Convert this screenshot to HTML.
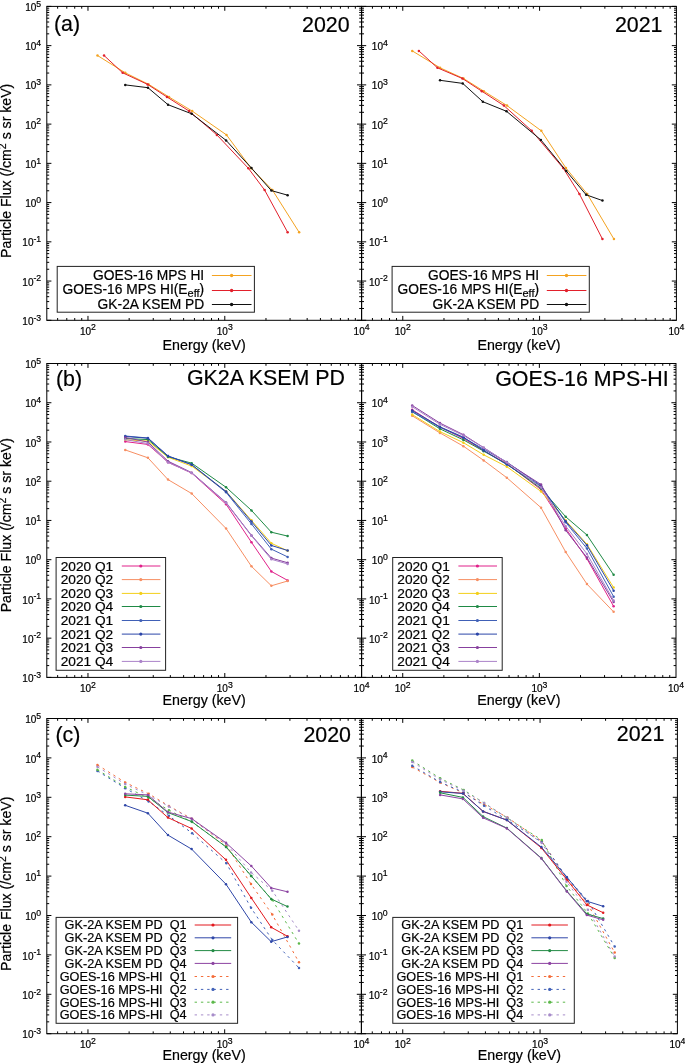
<!DOCTYPE html>
<html><head><meta charset="utf-8"><style>
html,body{margin:0;padding:0;background:#fff;}
body{width:685px;height:1063px;overflow:hidden;font-family:"Liberation Sans", sans-serif;}
svg{display:block;will-change:transform;}
text{stroke:#000;stroke-width:0.2px;}
</style></head><body>
<svg width="685" height="1063" viewBox="0 0 685 1063" font-family='"Liberation Sans", sans-serif' fill="#000">
<rect width="685" height="1063" fill="#fff"/>
<polyline points="97.47,55.5 125.25,72.8 148.73,84.4 169.02,96.99 192.2,111.09 226.48,134.89 251.16,168.29 272.45,190.09 299.13,232.29" fill="none" stroke="#f4a321" stroke-width="1.0" stroke-linejoin="round"/>
<circle cx="97.47" cy="55.5" r="1.25" fill="#f4a321"/>
<circle cx="125.25" cy="72.8" r="1.25" fill="#f4a321"/>
<circle cx="148.73" cy="84.4" r="1.25" fill="#f4a321"/>
<circle cx="169.02" cy="96.99" r="1.25" fill="#f4a321"/>
<circle cx="192.2" cy="111.09" r="1.25" fill="#f4a321"/>
<circle cx="226.48" cy="134.89" r="1.25" fill="#f4a321"/>
<circle cx="251.16" cy="168.29" r="1.25" fill="#f4a321"/>
<circle cx="272.45" cy="190.09" r="1.25" fill="#f4a321"/>
<circle cx="299.13" cy="232.29" r="1.25" fill="#f4a321"/>
<polyline points="104.06,55.5 122.65,72.8 147.63,84.4 167.02,96.99 189.1,111.09 216.89,134.89 248.36,168.29 264.65,190.09 287.64,232.29" fill="none" stroke="#e2202b" stroke-width="1.0" stroke-linejoin="round"/>
<circle cx="104.06" cy="55.5" r="1.25" fill="#e2202b"/>
<circle cx="122.65" cy="72.8" r="1.25" fill="#e2202b"/>
<circle cx="147.63" cy="84.4" r="1.25" fill="#e2202b"/>
<circle cx="167.02" cy="96.99" r="1.25" fill="#e2202b"/>
<circle cx="189.1" cy="111.09" r="1.25" fill="#e2202b"/>
<circle cx="216.89" cy="134.89" r="1.25" fill="#e2202b"/>
<circle cx="248.36" cy="168.29" r="1.25" fill="#e2202b"/>
<circle cx="264.65" cy="190.09" r="1.25" fill="#e2202b"/>
<circle cx="287.64" cy="232.29" r="1.25" fill="#e2202b"/>
<polyline points="125.25,84.89 147.93,87.69 168.02,104.69 191.7,113.79 226.08,140.39 251.46,168.09 271.35,190.59 287.64,195.19" fill="none" stroke="#111" stroke-width="1.0" stroke-linejoin="round"/>
<circle cx="125.25" cy="84.89" r="1.25" fill="#111"/>
<circle cx="147.93" cy="87.69" r="1.25" fill="#111"/>
<circle cx="168.02" cy="104.69" r="1.25" fill="#111"/>
<circle cx="191.7" cy="113.79" r="1.25" fill="#111"/>
<circle cx="226.08" cy="140.39" r="1.25" fill="#111"/>
<circle cx="251.46" cy="168.09" r="1.25" fill="#111"/>
<circle cx="271.35" cy="190.59" r="1.25" fill="#111"/>
<circle cx="287.64" cy="195.19" r="1.25" fill="#111"/>
<polyline points="412.27,50.9 440.05,67.8 463.53,78.5 483.82,91.19 507,105.59 541.28,130.79 565.96,168.09 587.25,193.99 613.93,239.09" fill="none" stroke="#f4a321" stroke-width="1.0" stroke-linejoin="round"/>
<circle cx="412.27" cy="50.9" r="1.25" fill="#f4a321"/>
<circle cx="440.05" cy="67.8" r="1.25" fill="#f4a321"/>
<circle cx="463.53" cy="78.5" r="1.25" fill="#f4a321"/>
<circle cx="483.82" cy="91.19" r="1.25" fill="#f4a321"/>
<circle cx="507" cy="105.59" r="1.25" fill="#f4a321"/>
<circle cx="541.28" cy="130.79" r="1.25" fill="#f4a321"/>
<circle cx="565.96" cy="168.09" r="1.25" fill="#f4a321"/>
<circle cx="587.25" cy="193.99" r="1.25" fill="#f4a321"/>
<circle cx="613.93" cy="239.09" r="1.25" fill="#f4a321"/>
<polyline points="418.86,50.9 437.45,67.8 462.43,78.5 481.82,91.19 503.9,105.59 531.69,130.79 563.16,168.09 579.45,193.99 602.44,239.09" fill="none" stroke="#e2202b" stroke-width="1.0" stroke-linejoin="round"/>
<circle cx="418.86" cy="50.9" r="1.25" fill="#e2202b"/>
<circle cx="437.45" cy="67.8" r="1.25" fill="#e2202b"/>
<circle cx="462.43" cy="78.5" r="1.25" fill="#e2202b"/>
<circle cx="481.82" cy="91.19" r="1.25" fill="#e2202b"/>
<circle cx="503.9" cy="105.59" r="1.25" fill="#e2202b"/>
<circle cx="531.69" cy="130.79" r="1.25" fill="#e2202b"/>
<circle cx="563.16" cy="168.09" r="1.25" fill="#e2202b"/>
<circle cx="579.45" cy="193.99" r="1.25" fill="#e2202b"/>
<circle cx="602.44" cy="239.09" r="1.25" fill="#e2202b"/>
<polyline points="440.05,80.3 462.73,83.4 482.82,101.69 506.5,111.29 540.88,139.89 566.26,170.99 586.15,194.79 602.44,200.59" fill="none" stroke="#111" stroke-width="1.0" stroke-linejoin="round"/>
<circle cx="440.05" cy="80.3" r="1.25" fill="#111"/>
<circle cx="462.73" cy="83.4" r="1.25" fill="#111"/>
<circle cx="482.82" cy="101.69" r="1.25" fill="#111"/>
<circle cx="506.5" cy="111.29" r="1.25" fill="#111"/>
<circle cx="540.88" cy="139.89" r="1.25" fill="#111"/>
<circle cx="566.26" cy="170.99" r="1.25" fill="#111"/>
<circle cx="586.15" cy="194.79" r="1.25" fill="#111"/>
<circle cx="602.44" cy="200.59" r="1.25" fill="#111"/>
<polyline points="125.25,441.58 147.93,444.46 168.02,462.19 191.7,473.05 226.08,504.22 251.46,542.26 271.35,571.44 287.64,580.4" fill="none" stroke="#e0218a" stroke-width="1.0" stroke-linejoin="round"/>
<circle cx="125.25" cy="441.58" r="1.25" fill="#e0218a"/>
<circle cx="147.93" cy="444.46" r="1.25" fill="#e0218a"/>
<circle cx="168.02" cy="462.19" r="1.25" fill="#e0218a"/>
<circle cx="191.7" cy="473.05" r="1.25" fill="#e0218a"/>
<circle cx="226.08" cy="504.22" r="1.25" fill="#e0218a"/>
<circle cx="251.46" cy="542.26" r="1.25" fill="#e0218a"/>
<circle cx="271.35" cy="571.44" r="1.25" fill="#e0218a"/>
<circle cx="287.64" cy="580.4" r="1.25" fill="#e0218a"/>
<polyline points="125.25,449.94 147.93,457.81 168.02,479.62 191.7,493.56 226.08,528.52 251.46,566.36 271.35,585.78 287.64,581" fill="none" stroke="#f78f63" stroke-width="1.0" stroke-linejoin="round"/>
<circle cx="125.25" cy="449.94" r="1.25" fill="#f78f63"/>
<circle cx="147.93" cy="457.81" r="1.25" fill="#f78f63"/>
<circle cx="168.02" cy="479.62" r="1.25" fill="#f78f63"/>
<circle cx="191.7" cy="493.56" r="1.25" fill="#f78f63"/>
<circle cx="226.08" cy="528.52" r="1.25" fill="#f78f63"/>
<circle cx="251.46" cy="566.36" r="1.25" fill="#f78f63"/>
<circle cx="271.35" cy="585.78" r="1.25" fill="#f78f63"/>
<circle cx="287.64" cy="581" r="1.25" fill="#f78f63"/>
<polyline points="125.25,439.78 147.93,441.08 168.02,457.21 191.7,466.08 226.08,491.37 251.46,520.35 271.35,543.26 287.64,550.82" fill="none" stroke="#f3cf19" stroke-width="1.0" stroke-linejoin="round"/>
<circle cx="125.25" cy="439.78" r="1.25" fill="#f3cf19"/>
<circle cx="147.93" cy="441.08" r="1.25" fill="#f3cf19"/>
<circle cx="168.02" cy="457.21" r="1.25" fill="#f3cf19"/>
<circle cx="191.7" cy="466.08" r="1.25" fill="#f3cf19"/>
<circle cx="226.08" cy="491.37" r="1.25" fill="#f3cf19"/>
<circle cx="251.46" cy="520.35" r="1.25" fill="#f3cf19"/>
<circle cx="271.35" cy="543.26" r="1.25" fill="#f3cf19"/>
<circle cx="287.64" cy="550.82" r="1.25" fill="#f3cf19"/>
<polyline points="125.25,438.49 147.93,439.58 168.02,456.71 191.7,463.19 226.08,487.29 251.46,510.39 271.35,532.2 287.64,536.09" fill="none" stroke="#1f8a45" stroke-width="1.0" stroke-linejoin="round"/>
<circle cx="125.25" cy="438.49" r="1.25" fill="#1f8a45"/>
<circle cx="147.93" cy="439.58" r="1.25" fill="#1f8a45"/>
<circle cx="168.02" cy="456.71" r="1.25" fill="#1f8a45"/>
<circle cx="191.7" cy="463.19" r="1.25" fill="#1f8a45"/>
<circle cx="226.08" cy="487.29" r="1.25" fill="#1f8a45"/>
<circle cx="251.46" cy="510.39" r="1.25" fill="#1f8a45"/>
<circle cx="271.35" cy="532.2" r="1.25" fill="#1f8a45"/>
<circle cx="287.64" cy="536.09" r="1.25" fill="#1f8a45"/>
<polyline points="125.25,436 147.93,437.99 168.02,456.02 191.7,464.68 226.08,492.37 251.46,523.94 271.35,549.13 287.64,556.9" fill="none" stroke="#4060b6" stroke-width="1.0" stroke-linejoin="round"/>
<circle cx="125.25" cy="436" r="1.25" fill="#4060b6"/>
<circle cx="147.93" cy="437.99" r="1.25" fill="#4060b6"/>
<circle cx="168.02" cy="456.02" r="1.25" fill="#4060b6"/>
<circle cx="191.7" cy="464.68" r="1.25" fill="#4060b6"/>
<circle cx="226.08" cy="492.37" r="1.25" fill="#4060b6"/>
<circle cx="251.46" cy="523.94" r="1.25" fill="#4060b6"/>
<circle cx="271.35" cy="549.13" r="1.25" fill="#4060b6"/>
<circle cx="287.64" cy="556.9" r="1.25" fill="#4060b6"/>
<polyline points="125.25,436.5 147.93,438.19 168.02,456.02 191.7,464.68 226.08,491.57 251.46,521.55 271.35,545.45 287.64,550.53" fill="none" stroke="#2b45a8" stroke-width="1.0" stroke-linejoin="round"/>
<circle cx="125.25" cy="436.5" r="1.25" fill="#2b45a8"/>
<circle cx="147.93" cy="438.19" r="1.25" fill="#2b45a8"/>
<circle cx="168.02" cy="456.02" r="1.25" fill="#2b45a8"/>
<circle cx="191.7" cy="464.68" r="1.25" fill="#2b45a8"/>
<circle cx="226.08" cy="491.57" r="1.25" fill="#2b45a8"/>
<circle cx="251.46" cy="521.55" r="1.25" fill="#2b45a8"/>
<circle cx="271.35" cy="545.45" r="1.25" fill="#2b45a8"/>
<circle cx="287.64" cy="550.53" r="1.25" fill="#2b45a8"/>
<polyline points="125.25,437.49 147.93,442.07 168.02,461.2 191.7,472.65 226.08,502.52 251.46,535.39 271.35,558.09 287.64,562.77" fill="none" stroke="#87409e" stroke-width="1.0" stroke-linejoin="round"/>
<circle cx="125.25" cy="437.49" r="1.25" fill="#87409e"/>
<circle cx="147.93" cy="442.07" r="1.25" fill="#87409e"/>
<circle cx="168.02" cy="461.2" r="1.25" fill="#87409e"/>
<circle cx="191.7" cy="472.65" r="1.25" fill="#87409e"/>
<circle cx="226.08" cy="502.52" r="1.25" fill="#87409e"/>
<circle cx="251.46" cy="535.39" r="1.25" fill="#87409e"/>
<circle cx="271.35" cy="558.09" r="1.25" fill="#87409e"/>
<circle cx="287.64" cy="562.77" r="1.25" fill="#87409e"/>
<polyline points="125.25,439.58 147.93,443.57 168.02,462.39 191.7,472.95 226.08,502.92 251.46,535.79 271.35,559.29 287.64,563.97" fill="none" stroke="#ab82c9" stroke-width="1.0" stroke-linejoin="round"/>
<circle cx="125.25" cy="439.58" r="1.25" fill="#ab82c9"/>
<circle cx="147.93" cy="443.57" r="1.25" fill="#ab82c9"/>
<circle cx="168.02" cy="462.39" r="1.25" fill="#ab82c9"/>
<circle cx="191.7" cy="472.95" r="1.25" fill="#ab82c9"/>
<circle cx="226.08" cy="502.92" r="1.25" fill="#ab82c9"/>
<circle cx="251.46" cy="535.79" r="1.25" fill="#ab82c9"/>
<circle cx="271.35" cy="559.29" r="1.25" fill="#ab82c9"/>
<circle cx="287.64" cy="563.97" r="1.25" fill="#ab82c9"/>
<polyline points="412.2,409.71 439.95,427.14 463.4,438.49 483.66,450.64 506.82,463.59 541.05,489.68 565.7,528.42 586.96,558.79 613.61,606.29" fill="none" stroke="#e0218a" stroke-width="1.0" stroke-linejoin="round"/>
<circle cx="412.2" cy="409.71" r="1.25" fill="#e0218a"/>
<circle cx="439.95" cy="427.14" r="1.25" fill="#e0218a"/>
<circle cx="463.4" cy="438.49" r="1.25" fill="#e0218a"/>
<circle cx="483.66" cy="450.64" r="1.25" fill="#e0218a"/>
<circle cx="506.82" cy="463.59" r="1.25" fill="#e0218a"/>
<circle cx="541.05" cy="489.68" r="1.25" fill="#e0218a"/>
<circle cx="565.7" cy="528.42" r="1.25" fill="#e0218a"/>
<circle cx="586.96" cy="558.79" r="1.25" fill="#e0218a"/>
<circle cx="613.61" cy="606.29" r="1.25" fill="#e0218a"/>
<polyline points="412.2,415.78 439.95,432.91 463.4,446.16 483.66,460.4 506.82,477.73 541.05,507.7 565.7,552.02 586.96,584.09 613.61,611.87" fill="none" stroke="#f78f63" stroke-width="1.0" stroke-linejoin="round"/>
<circle cx="412.2" cy="415.78" r="1.25" fill="#f78f63"/>
<circle cx="439.95" cy="432.91" r="1.25" fill="#f78f63"/>
<circle cx="463.4" cy="446.16" r="1.25" fill="#f78f63"/>
<circle cx="483.66" cy="460.4" r="1.25" fill="#f78f63"/>
<circle cx="506.82" cy="477.73" r="1.25" fill="#f78f63"/>
<circle cx="541.05" cy="507.7" r="1.25" fill="#f78f63"/>
<circle cx="565.7" cy="552.02" r="1.25" fill="#f78f63"/>
<circle cx="586.96" cy="584.09" r="1.25" fill="#f78f63"/>
<circle cx="613.61" cy="611.87" r="1.25" fill="#f78f63"/>
<polyline points="412.2,414.59 439.95,431.62 463.4,442.67 483.66,454.82 506.82,466.67 541.05,491.47 565.7,520.35 586.96,544.25 613.61,587.57" fill="none" stroke="#f3cf19" stroke-width="1.0" stroke-linejoin="round"/>
<circle cx="412.2" cy="414.59" r="1.25" fill="#f3cf19"/>
<circle cx="439.95" cy="431.62" r="1.25" fill="#f3cf19"/>
<circle cx="463.4" cy="442.67" r="1.25" fill="#f3cf19"/>
<circle cx="483.66" cy="454.82" r="1.25" fill="#f3cf19"/>
<circle cx="506.82" cy="466.67" r="1.25" fill="#f3cf19"/>
<circle cx="541.05" cy="491.47" r="1.25" fill="#f3cf19"/>
<circle cx="565.7" cy="520.35" r="1.25" fill="#f3cf19"/>
<circle cx="586.96" cy="544.25" r="1.25" fill="#f3cf19"/>
<circle cx="613.61" cy="587.57" r="1.25" fill="#f3cf19"/>
<polyline points="412.2,411.6 439.95,428.83 463.4,439.88 483.66,451.14 506.82,464.08 541.05,488.48 565.7,516.77 586.96,534.99 613.61,574.82" fill="none" stroke="#1f8a45" stroke-width="1.0" stroke-linejoin="round"/>
<circle cx="412.2" cy="411.6" r="1.25" fill="#1f8a45"/>
<circle cx="439.95" cy="428.83" r="1.25" fill="#1f8a45"/>
<circle cx="463.4" cy="439.88" r="1.25" fill="#1f8a45"/>
<circle cx="483.66" cy="451.14" r="1.25" fill="#1f8a45"/>
<circle cx="506.82" cy="464.08" r="1.25" fill="#1f8a45"/>
<circle cx="541.05" cy="488.48" r="1.25" fill="#1f8a45"/>
<circle cx="565.7" cy="516.77" r="1.25" fill="#1f8a45"/>
<circle cx="586.96" cy="534.99" r="1.25" fill="#1f8a45"/>
<circle cx="613.61" cy="574.82" r="1.25" fill="#1f8a45"/>
<polyline points="412.2,411.9 439.95,427.34 463.4,437.69 483.66,449.15 506.82,462.09 541.05,485.69 565.7,522.34 586.96,548.53 613.61,596.63" fill="none" stroke="#4060b6" stroke-width="1.0" stroke-linejoin="round"/>
<circle cx="412.2" cy="411.9" r="1.25" fill="#4060b6"/>
<circle cx="439.95" cy="427.34" r="1.25" fill="#4060b6"/>
<circle cx="463.4" cy="437.69" r="1.25" fill="#4060b6"/>
<circle cx="483.66" cy="449.15" r="1.25" fill="#4060b6"/>
<circle cx="506.82" cy="462.09" r="1.25" fill="#4060b6"/>
<circle cx="541.05" cy="485.69" r="1.25" fill="#4060b6"/>
<circle cx="565.7" cy="522.34" r="1.25" fill="#4060b6"/>
<circle cx="586.96" cy="548.53" r="1.25" fill="#4060b6"/>
<circle cx="613.61" cy="596.63" r="1.25" fill="#4060b6"/>
<polyline points="412.2,410.51 439.95,426.84 463.4,437.19 483.66,450.44 506.82,464.58 541.05,486.49 565.7,521.35 586.96,545.25 613.61,590.66" fill="none" stroke="#2b45a8" stroke-width="1.0" stroke-linejoin="round"/>
<circle cx="412.2" cy="410.51" r="1.25" fill="#2b45a8"/>
<circle cx="439.95" cy="426.84" r="1.25" fill="#2b45a8"/>
<circle cx="463.4" cy="437.19" r="1.25" fill="#2b45a8"/>
<circle cx="483.66" cy="450.44" r="1.25" fill="#2b45a8"/>
<circle cx="506.82" cy="464.58" r="1.25" fill="#2b45a8"/>
<circle cx="541.05" cy="486.49" r="1.25" fill="#2b45a8"/>
<circle cx="565.7" cy="521.35" r="1.25" fill="#2b45a8"/>
<circle cx="586.96" cy="545.25" r="1.25" fill="#2b45a8"/>
<circle cx="613.61" cy="590.66" r="1.25" fill="#2b45a8"/>
<polyline points="412.2,405.43 439.95,423.05 463.4,434.71 483.66,447.65 506.82,462.59 541.05,484.5 565.7,530.31 586.96,557.6 613.61,602.01" fill="none" stroke="#87409e" stroke-width="1.0" stroke-linejoin="round"/>
<circle cx="412.2" cy="405.43" r="1.25" fill="#87409e"/>
<circle cx="439.95" cy="423.05" r="1.25" fill="#87409e"/>
<circle cx="463.4" cy="434.71" r="1.25" fill="#87409e"/>
<circle cx="483.66" cy="447.65" r="1.25" fill="#87409e"/>
<circle cx="506.82" cy="462.59" r="1.25" fill="#87409e"/>
<circle cx="541.05" cy="484.5" r="1.25" fill="#87409e"/>
<circle cx="565.7" cy="530.31" r="1.25" fill="#87409e"/>
<circle cx="586.96" cy="557.6" r="1.25" fill="#87409e"/>
<circle cx="613.61" cy="602.01" r="1.25" fill="#87409e"/>
<polyline points="412.2,406.72 439.95,424.25 463.4,435.5 483.66,447.65 506.82,462.39 541.05,487.49 565.7,526.13 586.96,553.91 613.61,600.52" fill="none" stroke="#ab82c9" stroke-width="1.0" stroke-linejoin="round"/>
<circle cx="412.2" cy="406.72" r="1.25" fill="#ab82c9"/>
<circle cx="439.95" cy="424.25" r="1.25" fill="#ab82c9"/>
<circle cx="463.4" cy="435.5" r="1.25" fill="#ab82c9"/>
<circle cx="483.66" cy="447.65" r="1.25" fill="#ab82c9"/>
<circle cx="506.82" cy="462.39" r="1.25" fill="#ab82c9"/>
<circle cx="541.05" cy="487.49" r="1.25" fill="#ab82c9"/>
<circle cx="565.7" cy="526.13" r="1.25" fill="#ab82c9"/>
<circle cx="586.96" cy="553.91" r="1.25" fill="#ab82c9"/>
<circle cx="613.61" cy="600.52" r="1.25" fill="#ab82c9"/>
<polyline points="97.43,764.9 125.2,782.4 148.67,793.8 168.94,806 192.11,819 226.37,845.2 251.03,884.1 272.31,914.6 298.97,962.3" fill="none" stroke="#f46d3a" stroke-width="1.0" stroke-linejoin="round" stroke-dasharray="2.4 3.9"/>
<circle cx="97.43" cy="764.9" r="1.25" fill="#f46d3a"/>
<circle cx="125.2" cy="782.4" r="1.25" fill="#f46d3a"/>
<circle cx="148.67" cy="793.8" r="1.25" fill="#f46d3a"/>
<circle cx="168.94" cy="806" r="1.25" fill="#f46d3a"/>
<circle cx="192.11" cy="819" r="1.25" fill="#f46d3a"/>
<circle cx="226.37" cy="845.2" r="1.25" fill="#f46d3a"/>
<circle cx="251.03" cy="884.1" r="1.25" fill="#f46d3a"/>
<circle cx="272.31" cy="914.6" r="1.25" fill="#f46d3a"/>
<circle cx="298.97" cy="962.3" r="1.25" fill="#f46d3a"/>
<polyline points="97.43,771 125.2,788.2 148.67,801.5 168.94,815.8 192.11,833.2 226.37,863.3 251.03,907.8 272.31,940 298.97,967.9" fill="none" stroke="#4262b8" stroke-width="1.0" stroke-linejoin="round" stroke-dasharray="2.4 3.9"/>
<circle cx="97.43" cy="771" r="1.25" fill="#4262b8"/>
<circle cx="125.2" cy="788.2" r="1.25" fill="#4262b8"/>
<circle cx="148.67" cy="801.5" r="1.25" fill="#4262b8"/>
<circle cx="168.94" cy="815.8" r="1.25" fill="#4262b8"/>
<circle cx="192.11" cy="833.2" r="1.25" fill="#4262b8"/>
<circle cx="226.37" cy="863.3" r="1.25" fill="#4262b8"/>
<circle cx="251.03" cy="907.8" r="1.25" fill="#4262b8"/>
<circle cx="272.31" cy="940" r="1.25" fill="#4262b8"/>
<circle cx="298.97" cy="967.9" r="1.25" fill="#4262b8"/>
<polyline points="97.43,769.8 125.2,786.9 148.67,798 168.94,810.2 192.11,822.1 226.37,847 251.03,876 272.31,900 298.97,943.5" fill="none" stroke="#5cb84a" stroke-width="1.0" stroke-linejoin="round" stroke-dasharray="2.4 3.9"/>
<circle cx="97.43" cy="769.8" r="1.25" fill="#5cb84a"/>
<circle cx="125.2" cy="786.9" r="1.25" fill="#5cb84a"/>
<circle cx="148.67" cy="798" r="1.25" fill="#5cb84a"/>
<circle cx="168.94" cy="810.2" r="1.25" fill="#5cb84a"/>
<circle cx="192.11" cy="822.1" r="1.25" fill="#5cb84a"/>
<circle cx="226.37" cy="847" r="1.25" fill="#5cb84a"/>
<circle cx="251.03" cy="876" r="1.25" fill="#5cb84a"/>
<circle cx="272.31" cy="900" r="1.25" fill="#5cb84a"/>
<circle cx="298.97" cy="943.5" r="1.25" fill="#5cb84a"/>
<polyline points="97.43,766.8 125.2,784.1 148.67,795.2 168.94,806.5 192.11,819.5 226.37,844 251.03,872.4 272.31,890.7 298.97,930.7" fill="none" stroke="#a78cc9" stroke-width="1.0" stroke-linejoin="round" stroke-dasharray="2.4 3.9"/>
<circle cx="97.43" cy="766.8" r="1.25" fill="#a78cc9"/>
<circle cx="125.2" cy="784.1" r="1.25" fill="#a78cc9"/>
<circle cx="148.67" cy="795.2" r="1.25" fill="#a78cc9"/>
<circle cx="168.94" cy="806.5" r="1.25" fill="#a78cc9"/>
<circle cx="192.11" cy="819.5" r="1.25" fill="#a78cc9"/>
<circle cx="226.37" cy="844" r="1.25" fill="#a78cc9"/>
<circle cx="251.03" cy="872.4" r="1.25" fill="#a78cc9"/>
<circle cx="272.31" cy="890.7" r="1.25" fill="#a78cc9"/>
<circle cx="298.97" cy="930.7" r="1.25" fill="#a78cc9"/>
<polyline points="125.2,796.9 147.87,799.8 167.94,817.6 191.61,828.5 225.97,859.8 251.33,898 271.21,927.3 287.49,936.3" fill="none" stroke="#e2191e" stroke-width="1.0" stroke-linejoin="round"/>
<circle cx="125.2" cy="796.9" r="1.25" fill="#e2191e"/>
<circle cx="147.87" cy="799.8" r="1.25" fill="#e2191e"/>
<circle cx="167.94" cy="817.6" r="1.25" fill="#e2191e"/>
<circle cx="191.61" cy="828.5" r="1.25" fill="#e2191e"/>
<circle cx="225.97" cy="859.8" r="1.25" fill="#e2191e"/>
<circle cx="251.33" cy="898" r="1.25" fill="#e2191e"/>
<circle cx="271.21" cy="927.3" r="1.25" fill="#e2191e"/>
<circle cx="287.49" cy="936.3" r="1.25" fill="#e2191e"/>
<polyline points="125.2,805.3 147.87,813.2 167.94,835.1 191.61,849.1 225.97,884.2 251.33,922.2 271.21,941.7 287.49,936.9" fill="none" stroke="#2f47a8" stroke-width="1.0" stroke-linejoin="round"/>
<circle cx="125.2" cy="805.3" r="1.25" fill="#2f47a8"/>
<circle cx="147.87" cy="813.2" r="1.25" fill="#2f47a8"/>
<circle cx="167.94" cy="835.1" r="1.25" fill="#2f47a8"/>
<circle cx="191.61" cy="849.1" r="1.25" fill="#2f47a8"/>
<circle cx="225.97" cy="884.2" r="1.25" fill="#2f47a8"/>
<circle cx="251.33" cy="922.2" r="1.25" fill="#2f47a8"/>
<circle cx="271.21" cy="941.7" r="1.25" fill="#2f47a8"/>
<circle cx="287.49" cy="936.9" r="1.25" fill="#2f47a8"/>
<polyline points="125.2,795.1 147.87,796.4 167.94,812.6 191.61,821.5 225.97,846.9 251.33,876 271.21,899 287.49,906.6" fill="none" stroke="#238b45" stroke-width="1.0" stroke-linejoin="round"/>
<circle cx="125.2" cy="795.1" r="1.25" fill="#238b45"/>
<circle cx="147.87" cy="796.4" r="1.25" fill="#238b45"/>
<circle cx="167.94" cy="812.6" r="1.25" fill="#238b45"/>
<circle cx="191.61" cy="821.5" r="1.25" fill="#238b45"/>
<circle cx="225.97" cy="846.9" r="1.25" fill="#238b45"/>
<circle cx="251.33" cy="876" r="1.25" fill="#238b45"/>
<circle cx="271.21" cy="899" r="1.25" fill="#238b45"/>
<circle cx="287.49" cy="906.6" r="1.25" fill="#238b45"/>
<polyline points="125.2,793.8 147.87,794.9 167.94,812.1 191.61,818.6 225.97,842.8 251.33,866 271.21,887.9 287.49,891.8" fill="none" stroke="#8c44a2" stroke-width="1.0" stroke-linejoin="round"/>
<circle cx="125.2" cy="793.8" r="1.25" fill="#8c44a2"/>
<circle cx="147.87" cy="794.9" r="1.25" fill="#8c44a2"/>
<circle cx="167.94" cy="812.1" r="1.25" fill="#8c44a2"/>
<circle cx="191.61" cy="818.6" r="1.25" fill="#8c44a2"/>
<circle cx="225.97" cy="842.8" r="1.25" fill="#8c44a2"/>
<circle cx="251.33" cy="866" r="1.25" fill="#8c44a2"/>
<circle cx="271.21" cy="887.9" r="1.25" fill="#8c44a2"/>
<circle cx="287.49" cy="891.8" r="1.25" fill="#8c44a2"/>
<polyline points="412.26,767.1 440.15,782.6 463.72,793 484.08,804.5 507.36,817.5 541.76,841.2 566.54,878 587.91,904.3 614.69,952.6" fill="none" stroke="#f46d3a" stroke-width="1.0" stroke-linejoin="round" stroke-dasharray="2.4 3.9"/>
<circle cx="412.26" cy="767.1" r="1.25" fill="#f46d3a"/>
<circle cx="440.15" cy="782.6" r="1.25" fill="#f46d3a"/>
<circle cx="463.72" cy="793" r="1.25" fill="#f46d3a"/>
<circle cx="484.08" cy="804.5" r="1.25" fill="#f46d3a"/>
<circle cx="507.36" cy="817.5" r="1.25" fill="#f46d3a"/>
<circle cx="541.76" cy="841.2" r="1.25" fill="#f46d3a"/>
<circle cx="566.54" cy="878" r="1.25" fill="#f46d3a"/>
<circle cx="587.91" cy="904.3" r="1.25" fill="#f46d3a"/>
<circle cx="614.69" cy="952.6" r="1.25" fill="#f46d3a"/>
<polyline points="412.26,765.7 440.15,782.1 463.72,792.5 484.08,805.8 507.36,820 541.76,842 566.54,877 587.91,901 614.69,946.6" fill="none" stroke="#4262b8" stroke-width="1.0" stroke-linejoin="round" stroke-dasharray="2.4 3.9"/>
<circle cx="412.26" cy="765.7" r="1.25" fill="#4262b8"/>
<circle cx="440.15" cy="782.1" r="1.25" fill="#4262b8"/>
<circle cx="463.72" cy="792.5" r="1.25" fill="#4262b8"/>
<circle cx="484.08" cy="805.8" r="1.25" fill="#4262b8"/>
<circle cx="507.36" cy="820" r="1.25" fill="#4262b8"/>
<circle cx="541.76" cy="842" r="1.25" fill="#4262b8"/>
<circle cx="566.54" cy="877" r="1.25" fill="#4262b8"/>
<circle cx="587.91" cy="901" r="1.25" fill="#4262b8"/>
<circle cx="614.69" cy="946.6" r="1.25" fill="#4262b8"/>
<polyline points="412.26,760.6 440.15,778.3 463.72,790 484.08,803 507.36,818 541.76,840 566.54,886 587.91,913.4 614.69,958" fill="none" stroke="#5cb84a" stroke-width="1.0" stroke-linejoin="round" stroke-dasharray="2.4 3.9"/>
<circle cx="412.26" cy="760.6" r="1.25" fill="#5cb84a"/>
<circle cx="440.15" cy="778.3" r="1.25" fill="#5cb84a"/>
<circle cx="463.72" cy="790" r="1.25" fill="#5cb84a"/>
<circle cx="484.08" cy="803" r="1.25" fill="#5cb84a"/>
<circle cx="507.36" cy="818" r="1.25" fill="#5cb84a"/>
<circle cx="541.76" cy="840" r="1.25" fill="#5cb84a"/>
<circle cx="566.54" cy="886" r="1.25" fill="#5cb84a"/>
<circle cx="587.91" cy="913.4" r="1.25" fill="#5cb84a"/>
<circle cx="614.69" cy="958" r="1.25" fill="#5cb84a"/>
<polyline points="412.26,761.9 440.15,779.5 463.72,790.8 484.08,803 507.36,817.8 541.76,843 566.54,881.8 587.91,909.7 614.69,956.5" fill="none" stroke="#a78cc9" stroke-width="1.0" stroke-linejoin="round" stroke-dasharray="2.4 3.9"/>
<circle cx="412.26" cy="761.9" r="1.25" fill="#a78cc9"/>
<circle cx="440.15" cy="779.5" r="1.25" fill="#a78cc9"/>
<circle cx="463.72" cy="790.8" r="1.25" fill="#a78cc9"/>
<circle cx="484.08" cy="803" r="1.25" fill="#a78cc9"/>
<circle cx="507.36" cy="817.8" r="1.25" fill="#a78cc9"/>
<circle cx="541.76" cy="843" r="1.25" fill="#a78cc9"/>
<circle cx="566.54" cy="881.8" r="1.25" fill="#a78cc9"/>
<circle cx="587.91" cy="909.7" r="1.25" fill="#a78cc9"/>
<circle cx="614.69" cy="956.5" r="1.25" fill="#a78cc9"/>
<polyline points="440.15,791.3 462.92,793.3 483.08,811.4 506.86,820.1 541.36,847.9 566.84,879.6 586.81,904.9 603.16,912.7" fill="none" stroke="#e2191e" stroke-width="1.0" stroke-linejoin="round"/>
<circle cx="440.15" cy="791.3" r="1.25" fill="#e2191e"/>
<circle cx="462.92" cy="793.3" r="1.25" fill="#e2191e"/>
<circle cx="483.08" cy="811.4" r="1.25" fill="#e2191e"/>
<circle cx="506.86" cy="820.1" r="1.25" fill="#e2191e"/>
<circle cx="541.36" cy="847.9" r="1.25" fill="#e2191e"/>
<circle cx="566.84" cy="879.6" r="1.25" fill="#e2191e"/>
<circle cx="586.81" cy="904.9" r="1.25" fill="#e2191e"/>
<circle cx="603.16" cy="912.7" r="1.25" fill="#e2191e"/>
<polyline points="440.15,791.8 462.92,793.5 483.08,811.4 506.86,820.1 541.36,847.1 566.84,877.2 586.81,901.2 603.16,906.3" fill="none" stroke="#2f47a8" stroke-width="1.0" stroke-linejoin="round"/>
<circle cx="440.15" cy="791.8" r="1.25" fill="#2f47a8"/>
<circle cx="462.92" cy="793.5" r="1.25" fill="#2f47a8"/>
<circle cx="483.08" cy="811.4" r="1.25" fill="#2f47a8"/>
<circle cx="506.86" cy="820.1" r="1.25" fill="#2f47a8"/>
<circle cx="541.36" cy="847.1" r="1.25" fill="#2f47a8"/>
<circle cx="566.84" cy="877.2" r="1.25" fill="#2f47a8"/>
<circle cx="586.81" cy="901.2" r="1.25" fill="#2f47a8"/>
<circle cx="603.16" cy="906.3" r="1.25" fill="#2f47a8"/>
<polyline points="440.15,792.8 462.92,797.4 483.08,816.6 506.86,828.1 541.36,858.1 566.84,891.1 586.81,913.9 603.16,918.6" fill="none" stroke="#238b45" stroke-width="1.0" stroke-linejoin="round"/>
<circle cx="440.15" cy="792.8" r="1.25" fill="#238b45"/>
<circle cx="462.92" cy="797.4" r="1.25" fill="#238b45"/>
<circle cx="483.08" cy="816.6" r="1.25" fill="#238b45"/>
<circle cx="506.86" cy="828.1" r="1.25" fill="#238b45"/>
<circle cx="541.36" cy="858.1" r="1.25" fill="#238b45"/>
<circle cx="566.84" cy="891.1" r="1.25" fill="#238b45"/>
<circle cx="586.81" cy="913.9" r="1.25" fill="#238b45"/>
<circle cx="603.16" cy="918.6" r="1.25" fill="#238b45"/>
<polyline points="440.15,794.9 462.92,798.9 483.08,817.8 506.86,828.4 541.36,858.5 566.84,891.5 586.81,915.1 603.16,919.8" fill="none" stroke="#8c44a2" stroke-width="1.0" stroke-linejoin="round"/>
<circle cx="440.15" cy="794.9" r="1.25" fill="#8c44a2"/>
<circle cx="462.92" cy="798.9" r="1.25" fill="#8c44a2"/>
<circle cx="483.08" cy="817.8" r="1.25" fill="#8c44a2"/>
<circle cx="506.86" cy="828.4" r="1.25" fill="#8c44a2"/>
<circle cx="541.36" cy="858.5" r="1.25" fill="#8c44a2"/>
<circle cx="566.84" cy="891.5" r="1.25" fill="#8c44a2"/>
<circle cx="586.81" cy="915.1" r="1.25" fill="#8c44a2"/>
<circle cx="603.16" cy="919.8" r="1.25" fill="#8c44a2"/>
<rect x="46.8" y="6.4" width="314.8" height="313.9" fill="none" stroke="#000" stroke-width="1.0"/>
<path d="M46.8 320.3h4.6M361.6 320.3h-4.6M46.8 308.49h2.4M361.6 308.49h-2.4M46.8 301.58h2.4M361.6 301.58h-2.4M46.8 296.68h2.4M361.6 296.68h-2.4M46.8 292.87h2.4M361.6 292.87h-2.4M46.8 289.77h2.4M361.6 289.77h-2.4M46.8 287.14h2.4M361.6 287.14h-2.4M46.8 284.87h2.4M361.6 284.87h-2.4M46.8 282.86h2.4M361.6 282.86h-2.4M46.8 281.06h4.6M361.6 281.06h-4.6M46.8 269.25h2.4M361.6 269.25h-2.4M46.8 262.34h2.4M361.6 262.34h-2.4M46.8 257.44h2.4M361.6 257.44h-2.4M46.8 253.64h2.4M361.6 253.64h-2.4M46.8 250.53h2.4M361.6 250.53h-2.4M46.8 247.9h2.4M361.6 247.9h-2.4M46.8 245.63h2.4M361.6 245.63h-2.4M46.8 243.62h2.4M361.6 243.62h-2.4M46.8 241.83h4.6M361.6 241.83h-4.6M46.8 230.01h2.4M361.6 230.01h-2.4M46.8 223.1h2.4M361.6 223.1h-2.4M46.8 218.2h2.4M361.6 218.2h-2.4M46.8 214.4h2.4M361.6 214.4h-2.4M46.8 211.29h2.4M361.6 211.29h-2.4M46.8 208.67h2.4M361.6 208.67h-2.4M46.8 206.39h2.4M361.6 206.39h-2.4M46.8 204.38h2.4M361.6 204.38h-2.4M46.8 202.59h4.6M361.6 202.59h-4.6M46.8 190.78h2.4M361.6 190.78h-2.4M46.8 183.87h2.4M361.6 183.87h-2.4M46.8 178.96h2.4M361.6 178.96h-2.4M46.8 175.16h2.4M361.6 175.16h-2.4M46.8 172.05h2.4M361.6 172.05h-2.4M46.8 169.43h2.4M361.6 169.43h-2.4M46.8 167.15h2.4M361.6 167.15h-2.4M46.8 165.15h2.4M361.6 165.15h-2.4M46.8 163.35h4.6M361.6 163.35h-4.6M46.8 151.54h2.4M361.6 151.54h-2.4M46.8 144.63h2.4M361.6 144.63h-2.4M46.8 139.73h2.4M361.6 139.73h-2.4M46.8 135.92h2.4M361.6 135.92h-2.4M46.8 132.82h2.4M361.6 132.82h-2.4M46.8 130.19h2.4M361.6 130.19h-2.4M46.8 127.92h2.4M361.6 127.92h-2.4M46.8 125.91h2.4M361.6 125.91h-2.4M46.8 124.11h4.6M361.6 124.11h-4.6M46.8 112.3h2.4M361.6 112.3h-2.4M46.8 105.39h2.4M361.6 105.39h-2.4M46.8 100.49h2.4M361.6 100.49h-2.4M46.8 96.69h2.4M361.6 96.69h-2.4M46.8 93.58h2.4M361.6 93.58h-2.4M46.8 90.95h2.4M361.6 90.95h-2.4M46.8 88.68h2.4M361.6 88.68h-2.4M46.8 86.67h2.4M361.6 86.67h-2.4M46.8 84.88h4.6M361.6 84.88h-4.6M46.8 73.06h2.4M361.6 73.06h-2.4M46.8 66.15h2.4M361.6 66.15h-2.4M46.8 61.25h2.4M361.6 61.25h-2.4M46.8 57.45h2.4M361.6 57.45h-2.4M46.8 54.34h2.4M361.6 54.34h-2.4M46.8 51.72h2.4M361.6 51.72h-2.4M46.8 49.44h2.4M361.6 49.44h-2.4M46.8 47.43h2.4M361.6 47.43h-2.4M46.8 45.64h4.6M361.6 45.64h-4.6M46.8 33.83h2.4M361.6 33.83h-2.4M46.8 26.92h2.4M361.6 26.92h-2.4M46.8 22.01h2.4M361.6 22.01h-2.4M46.8 18.21h2.4M361.6 18.21h-2.4M46.8 15.1h2.4M361.6 15.1h-2.4M46.8 12.48h2.4M361.6 12.48h-2.4M46.8 10.2h2.4M361.6 10.2h-2.4M46.8 8.2h2.4M361.6 8.2h-2.4M46.8 6.4h4.6M361.6 6.4h-4.6M57.63 320.3v-2.3M57.63 6.4v2.3M66.79 320.3v-2.3M66.79 6.4v2.3M74.73 320.3v-2.3M74.73 6.4v2.3M81.72 320.3v-2.3M81.72 6.4v2.3M87.98 320.3v-4.4M87.98 6.4v4.4M129.17 320.3v-2.3M129.17 6.4v2.3M153.26 320.3v-2.3M153.26 6.4v2.3M170.35 320.3v-2.3M170.35 6.4v2.3M183.61 320.3v-2.3M183.61 6.4v2.3M194.44 320.3v-2.3M194.44 6.4v2.3M203.6 320.3v-2.3M203.6 6.4v2.3M211.53 320.3v-2.3M211.53 6.4v2.3M218.53 320.3v-2.3M218.53 6.4v2.3M224.79 320.3v-4.4M224.79 6.4v4.4M265.98 320.3v-2.3M265.98 6.4v2.3M290.07 320.3v-2.3M290.07 6.4v2.3M307.16 320.3v-2.3M307.16 6.4v2.3M320.42 320.3v-2.3M320.42 6.4v2.3M331.25 320.3v-2.3M331.25 6.4v2.3M340.41 320.3v-2.3M340.41 6.4v2.3M348.34 320.3v-2.3M348.34 6.4v2.3M355.34 320.3v-2.3M355.34 6.4v2.3" stroke="#000" stroke-width="1.0" fill="none"/>
<rect x="361.6" y="6.4" width="314.8" height="313.9" fill="none" stroke="#000" stroke-width="1.0"/>
<path d="M361.6 320.3h4.6M676.4 320.3h-4.6M361.6 308.49h2.4M676.4 308.49h-2.4M361.6 301.58h2.4M676.4 301.58h-2.4M361.6 296.68h2.4M676.4 296.68h-2.4M361.6 292.87h2.4M676.4 292.87h-2.4M361.6 289.77h2.4M676.4 289.77h-2.4M361.6 287.14h2.4M676.4 287.14h-2.4M361.6 284.87h2.4M676.4 284.87h-2.4M361.6 282.86h2.4M676.4 282.86h-2.4M361.6 281.06h4.6M676.4 281.06h-4.6M361.6 269.25h2.4M676.4 269.25h-2.4M361.6 262.34h2.4M676.4 262.34h-2.4M361.6 257.44h2.4M676.4 257.44h-2.4M361.6 253.64h2.4M676.4 253.64h-2.4M361.6 250.53h2.4M676.4 250.53h-2.4M361.6 247.9h2.4M676.4 247.9h-2.4M361.6 245.63h2.4M676.4 245.63h-2.4M361.6 243.62h2.4M676.4 243.62h-2.4M361.6 241.83h4.6M676.4 241.83h-4.6M361.6 230.01h2.4M676.4 230.01h-2.4M361.6 223.1h2.4M676.4 223.1h-2.4M361.6 218.2h2.4M676.4 218.2h-2.4M361.6 214.4h2.4M676.4 214.4h-2.4M361.6 211.29h2.4M676.4 211.29h-2.4M361.6 208.67h2.4M676.4 208.67h-2.4M361.6 206.39h2.4M676.4 206.39h-2.4M361.6 204.38h2.4M676.4 204.38h-2.4M361.6 202.59h4.6M676.4 202.59h-4.6M361.6 190.78h2.4M676.4 190.78h-2.4M361.6 183.87h2.4M676.4 183.87h-2.4M361.6 178.96h2.4M676.4 178.96h-2.4M361.6 175.16h2.4M676.4 175.16h-2.4M361.6 172.05h2.4M676.4 172.05h-2.4M361.6 169.43h2.4M676.4 169.43h-2.4M361.6 167.15h2.4M676.4 167.15h-2.4M361.6 165.15h2.4M676.4 165.15h-2.4M361.6 163.35h4.6M676.4 163.35h-4.6M361.6 151.54h2.4M676.4 151.54h-2.4M361.6 144.63h2.4M676.4 144.63h-2.4M361.6 139.73h2.4M676.4 139.73h-2.4M361.6 135.92h2.4M676.4 135.92h-2.4M361.6 132.82h2.4M676.4 132.82h-2.4M361.6 130.19h2.4M676.4 130.19h-2.4M361.6 127.92h2.4M676.4 127.92h-2.4M361.6 125.91h2.4M676.4 125.91h-2.4M361.6 124.11h4.6M676.4 124.11h-4.6M361.6 112.3h2.4M676.4 112.3h-2.4M361.6 105.39h2.4M676.4 105.39h-2.4M361.6 100.49h2.4M676.4 100.49h-2.4M361.6 96.69h2.4M676.4 96.69h-2.4M361.6 93.58h2.4M676.4 93.58h-2.4M361.6 90.95h2.4M676.4 90.95h-2.4M361.6 88.68h2.4M676.4 88.68h-2.4M361.6 86.67h2.4M676.4 86.67h-2.4M361.6 84.88h4.6M676.4 84.88h-4.6M361.6 73.06h2.4M676.4 73.06h-2.4M361.6 66.15h2.4M676.4 66.15h-2.4M361.6 61.25h2.4M676.4 61.25h-2.4M361.6 57.45h2.4M676.4 57.45h-2.4M361.6 54.34h2.4M676.4 54.34h-2.4M361.6 51.72h2.4M676.4 51.72h-2.4M361.6 49.44h2.4M676.4 49.44h-2.4M361.6 47.43h2.4M676.4 47.43h-2.4M361.6 45.64h4.6M676.4 45.64h-4.6M361.6 33.83h2.4M676.4 33.83h-2.4M361.6 26.92h2.4M676.4 26.92h-2.4M361.6 22.01h2.4M676.4 22.01h-2.4M361.6 18.21h2.4M676.4 18.21h-2.4M361.6 15.1h2.4M676.4 15.1h-2.4M361.6 12.48h2.4M676.4 12.48h-2.4M361.6 10.2h2.4M676.4 10.2h-2.4M361.6 8.2h2.4M676.4 8.2h-2.4M361.6 6.4h4.6M676.4 6.4h-4.6M372.43 320.3v-2.3M372.43 6.4v2.3M381.59 320.3v-2.3M381.59 6.4v2.3M389.53 320.3v-2.3M389.53 6.4v2.3M396.52 320.3v-2.3M396.52 6.4v2.3M402.78 320.3v-4.4M402.78 6.4v4.4M443.97 320.3v-2.3M443.97 6.4v2.3M468.06 320.3v-2.3M468.06 6.4v2.3M485.15 320.3v-2.3M485.15 6.4v2.3M498.41 320.3v-2.3M498.41 6.4v2.3M509.24 320.3v-2.3M509.24 6.4v2.3M518.4 320.3v-2.3M518.4 6.4v2.3M526.33 320.3v-2.3M526.33 6.4v2.3M533.33 320.3v-2.3M533.33 6.4v2.3M539.59 320.3v-4.4M539.59 6.4v4.4M580.78 320.3v-2.3M580.78 6.4v2.3M604.87 320.3v-2.3M604.87 6.4v2.3M621.96 320.3v-2.3M621.96 6.4v2.3M635.22 320.3v-2.3M635.22 6.4v2.3M646.05 320.3v-2.3M646.05 6.4v2.3M655.21 320.3v-2.3M655.21 6.4v2.3M663.14 320.3v-2.3M663.14 6.4v2.3M670.14 320.3v-2.3M670.14 6.4v2.3" stroke="#000" stroke-width="1.0" fill="none"/>
<rect x="46.8" y="363.5" width="314.8" height="313.9" fill="none" stroke="#000" stroke-width="1.0"/>
<path d="M46.8 677.4h4.6M361.6 677.4h-4.6M46.8 665.59h2.4M361.6 665.59h-2.4M46.8 658.68h2.4M361.6 658.68h-2.4M46.8 653.78h2.4M361.6 653.78h-2.4M46.8 649.97h2.4M361.6 649.97h-2.4M46.8 646.87h2.4M361.6 646.87h-2.4M46.8 644.24h2.4M361.6 644.24h-2.4M46.8 641.97h2.4M361.6 641.97h-2.4M46.8 639.96h2.4M361.6 639.96h-2.4M46.8 638.16h4.6M361.6 638.16h-4.6M46.8 626.35h2.4M361.6 626.35h-2.4M46.8 619.44h2.4M361.6 619.44h-2.4M46.8 614.54h2.4M361.6 614.54h-2.4M46.8 610.74h2.4M361.6 610.74h-2.4M46.8 607.63h2.4M361.6 607.63h-2.4M46.8 605h2.4M361.6 605h-2.4M46.8 602.73h2.4M361.6 602.73h-2.4M46.8 600.72h2.4M361.6 600.72h-2.4M46.8 598.92h4.6M361.6 598.92h-4.6M46.8 587.11h2.4M361.6 587.11h-2.4M46.8 580.2h2.4M361.6 580.2h-2.4M46.8 575.3h2.4M361.6 575.3h-2.4M46.8 571.5h2.4M361.6 571.5h-2.4M46.8 568.39h2.4M361.6 568.39h-2.4M46.8 565.77h2.4M361.6 565.77h-2.4M46.8 563.49h2.4M361.6 563.49h-2.4M46.8 561.48h2.4M361.6 561.48h-2.4M46.8 559.69h4.6M361.6 559.69h-4.6M46.8 547.88h2.4M361.6 547.88h-2.4M46.8 540.97h2.4M361.6 540.97h-2.4M46.8 536.06h2.4M361.6 536.06h-2.4M46.8 532.26h2.4M361.6 532.26h-2.4M46.8 529.15h2.4M361.6 529.15h-2.4M46.8 526.53h2.4M361.6 526.53h-2.4M46.8 524.25h2.4M361.6 524.25h-2.4M46.8 522.25h2.4M361.6 522.25h-2.4M46.8 520.45h4.6M361.6 520.45h-4.6M46.8 508.64h2.4M361.6 508.64h-2.4M46.8 501.73h2.4M361.6 501.73h-2.4M46.8 496.83h2.4M361.6 496.83h-2.4M46.8 493.02h2.4M361.6 493.02h-2.4M46.8 489.92h2.4M361.6 489.92h-2.4M46.8 487.29h2.4M361.6 487.29h-2.4M46.8 485.02h2.4M361.6 485.02h-2.4M46.8 483.01h2.4M361.6 483.01h-2.4M46.8 481.21h4.6M361.6 481.21h-4.6M46.8 469.4h2.4M361.6 469.4h-2.4M46.8 462.49h2.4M361.6 462.49h-2.4M46.8 457.59h2.4M361.6 457.59h-2.4M46.8 453.79h2.4M361.6 453.79h-2.4M46.8 450.68h2.4M361.6 450.68h-2.4M46.8 448.05h2.4M361.6 448.05h-2.4M46.8 445.78h2.4M361.6 445.78h-2.4M46.8 443.77h2.4M361.6 443.77h-2.4M46.8 441.98h4.6M361.6 441.98h-4.6M46.8 430.16h2.4M361.6 430.16h-2.4M46.8 423.25h2.4M361.6 423.25h-2.4M46.8 418.35h2.4M361.6 418.35h-2.4M46.8 414.55h2.4M361.6 414.55h-2.4M46.8 411.44h2.4M361.6 411.44h-2.4M46.8 408.82h2.4M361.6 408.82h-2.4M46.8 406.54h2.4M361.6 406.54h-2.4M46.8 404.53h2.4M361.6 404.53h-2.4M46.8 402.74h4.6M361.6 402.74h-4.6M46.8 390.93h2.4M361.6 390.93h-2.4M46.8 384.02h2.4M361.6 384.02h-2.4M46.8 379.11h2.4M361.6 379.11h-2.4M46.8 375.31h2.4M361.6 375.31h-2.4M46.8 372.2h2.4M361.6 372.2h-2.4M46.8 369.58h2.4M361.6 369.58h-2.4M46.8 367.3h2.4M361.6 367.3h-2.4M46.8 365.3h2.4M361.6 365.3h-2.4M46.8 363.5h4.6M361.6 363.5h-4.6M57.63 677.4v-2.3M57.63 363.5v2.3M66.79 677.4v-2.3M66.79 363.5v2.3M74.73 677.4v-2.3M74.73 363.5v2.3M81.72 677.4v-2.3M81.72 363.5v2.3M87.98 677.4v-4.4M87.98 363.5v4.4M129.17 677.4v-2.3M129.17 363.5v2.3M153.26 677.4v-2.3M153.26 363.5v2.3M170.35 677.4v-2.3M170.35 363.5v2.3M183.61 677.4v-2.3M183.61 363.5v2.3M194.44 677.4v-2.3M194.44 363.5v2.3M203.6 677.4v-2.3M203.6 363.5v2.3M211.53 677.4v-2.3M211.53 363.5v2.3M218.53 677.4v-2.3M218.53 363.5v2.3M224.79 677.4v-4.4M224.79 363.5v4.4M265.98 677.4v-2.3M265.98 363.5v2.3M290.07 677.4v-2.3M290.07 363.5v2.3M307.16 677.4v-2.3M307.16 363.5v2.3M320.42 677.4v-2.3M320.42 363.5v2.3M331.25 677.4v-2.3M331.25 363.5v2.3M340.41 677.4v-2.3M340.41 363.5v2.3M348.34 677.4v-2.3M348.34 363.5v2.3M355.34 677.4v-2.3M355.34 363.5v2.3" stroke="#000" stroke-width="1.0" fill="none"/>
<rect x="361.6" y="363.5" width="314.4" height="313.9" fill="none" stroke="#000" stroke-width="1.0"/>
<path d="M361.6 677.4h4.6M676 677.4h-4.6M361.6 665.59h2.4M676 665.59h-2.4M361.6 658.68h2.4M676 658.68h-2.4M361.6 653.78h2.4M676 653.78h-2.4M361.6 649.97h2.4M676 649.97h-2.4M361.6 646.87h2.4M676 646.87h-2.4M361.6 644.24h2.4M676 644.24h-2.4M361.6 641.97h2.4M676 641.97h-2.4M361.6 639.96h2.4M676 639.96h-2.4M361.6 638.16h4.6M676 638.16h-4.6M361.6 626.35h2.4M676 626.35h-2.4M361.6 619.44h2.4M676 619.44h-2.4M361.6 614.54h2.4M676 614.54h-2.4M361.6 610.74h2.4M676 610.74h-2.4M361.6 607.63h2.4M676 607.63h-2.4M361.6 605h2.4M676 605h-2.4M361.6 602.73h2.4M676 602.73h-2.4M361.6 600.72h2.4M676 600.72h-2.4M361.6 598.92h4.6M676 598.92h-4.6M361.6 587.11h2.4M676 587.11h-2.4M361.6 580.2h2.4M676 580.2h-2.4M361.6 575.3h2.4M676 575.3h-2.4M361.6 571.5h2.4M676 571.5h-2.4M361.6 568.39h2.4M676 568.39h-2.4M361.6 565.77h2.4M676 565.77h-2.4M361.6 563.49h2.4M676 563.49h-2.4M361.6 561.48h2.4M676 561.48h-2.4M361.6 559.69h4.6M676 559.69h-4.6M361.6 547.88h2.4M676 547.88h-2.4M361.6 540.97h2.4M676 540.97h-2.4M361.6 536.06h2.4M676 536.06h-2.4M361.6 532.26h2.4M676 532.26h-2.4M361.6 529.15h2.4M676 529.15h-2.4M361.6 526.53h2.4M676 526.53h-2.4M361.6 524.25h2.4M676 524.25h-2.4M361.6 522.25h2.4M676 522.25h-2.4M361.6 520.45h4.6M676 520.45h-4.6M361.6 508.64h2.4M676 508.64h-2.4M361.6 501.73h2.4M676 501.73h-2.4M361.6 496.83h2.4M676 496.83h-2.4M361.6 493.02h2.4M676 493.02h-2.4M361.6 489.92h2.4M676 489.92h-2.4M361.6 487.29h2.4M676 487.29h-2.4M361.6 485.02h2.4M676 485.02h-2.4M361.6 483.01h2.4M676 483.01h-2.4M361.6 481.21h4.6M676 481.21h-4.6M361.6 469.4h2.4M676 469.4h-2.4M361.6 462.49h2.4M676 462.49h-2.4M361.6 457.59h2.4M676 457.59h-2.4M361.6 453.79h2.4M676 453.79h-2.4M361.6 450.68h2.4M676 450.68h-2.4M361.6 448.05h2.4M676 448.05h-2.4M361.6 445.78h2.4M676 445.78h-2.4M361.6 443.77h2.4M676 443.77h-2.4M361.6 441.98h4.6M676 441.98h-4.6M361.6 430.16h2.4M676 430.16h-2.4M361.6 423.25h2.4M676 423.25h-2.4M361.6 418.35h2.4M676 418.35h-2.4M361.6 414.55h2.4M676 414.55h-2.4M361.6 411.44h2.4M676 411.44h-2.4M361.6 408.82h2.4M676 408.82h-2.4M361.6 406.54h2.4M676 406.54h-2.4M361.6 404.53h2.4M676 404.53h-2.4M361.6 402.74h4.6M676 402.74h-4.6M361.6 390.93h2.4M676 390.93h-2.4M361.6 384.02h2.4M676 384.02h-2.4M361.6 379.11h2.4M676 379.11h-2.4M361.6 375.31h2.4M676 375.31h-2.4M361.6 372.2h2.4M676 372.2h-2.4M361.6 369.58h2.4M676 369.58h-2.4M361.6 367.3h2.4M676 367.3h-2.4M361.6 365.3h2.4M676 365.3h-2.4M361.6 363.5h4.6M676 363.5h-4.6M372.42 677.4v-2.3M372.42 363.5v2.3M381.57 677.4v-2.3M381.57 363.5v2.3M389.49 677.4v-2.3M389.49 363.5v2.3M396.48 677.4v-2.3M396.48 363.5v2.3M402.73 677.4v-4.4M402.73 363.5v4.4M443.86 677.4v-2.3M443.86 363.5v2.3M467.92 677.4v-2.3M467.92 363.5v2.3M484.99 677.4v-2.3M484.99 363.5v2.3M498.23 677.4v-2.3M498.23 363.5v2.3M509.05 677.4v-2.3M509.05 363.5v2.3M518.2 677.4v-2.3M518.2 363.5v2.3M526.12 677.4v-2.3M526.12 363.5v2.3M533.11 677.4v-2.3M533.11 363.5v2.3M539.37 677.4v-4.4M539.37 363.5v4.4M580.5 677.4v-2.3M580.5 363.5v2.3M604.56 677.4v-2.3M604.56 363.5v2.3M621.63 677.4v-2.3M621.63 363.5v2.3M634.87 677.4v-2.3M634.87 363.5v2.3M645.69 677.4v-2.3M645.69 363.5v2.3M654.84 677.4v-2.3M654.84 363.5v2.3M662.76 677.4v-2.3M662.76 363.5v2.3M669.75 677.4v-2.3M669.75 363.5v2.3" stroke="#000" stroke-width="1.0" fill="none"/>
<rect x="46.8" y="718.5" width="314.6" height="315.2" fill="none" stroke="#000" stroke-width="1.0"/>
<path d="M46.8 1033.7h4.6M361.4 1033.7h-4.6M46.8 1021.84h2.4M361.4 1021.84h-2.4M46.8 1014.9h2.4M361.4 1014.9h-2.4M46.8 1009.98h2.4M361.4 1009.98h-2.4M46.8 1006.16h2.4M361.4 1006.16h-2.4M46.8 1003.04h2.4M361.4 1003.04h-2.4M46.8 1000.4h2.4M361.4 1000.4h-2.4M46.8 998.12h2.4M361.4 998.12h-2.4M46.8 996.1h2.4M361.4 996.1h-2.4M46.8 994.3h4.6M361.4 994.3h-4.6M46.8 982.44h2.4M361.4 982.44h-2.4M46.8 975.5h2.4M361.4 975.5h-2.4M46.8 970.58h2.4M361.4 970.58h-2.4M46.8 966.76h2.4M361.4 966.76h-2.4M46.8 963.64h2.4M361.4 963.64h-2.4M46.8 961h2.4M361.4 961h-2.4M46.8 958.72h2.4M361.4 958.72h-2.4M46.8 956.7h2.4M361.4 956.7h-2.4M46.8 954.9h4.6M361.4 954.9h-4.6M46.8 943.04h2.4M361.4 943.04h-2.4M46.8 936.1h2.4M361.4 936.1h-2.4M46.8 931.18h2.4M361.4 931.18h-2.4M46.8 927.36h2.4M361.4 927.36h-2.4M46.8 924.24h2.4M361.4 924.24h-2.4M46.8 921.6h2.4M361.4 921.6h-2.4M46.8 919.32h2.4M361.4 919.32h-2.4M46.8 917.3h2.4M361.4 917.3h-2.4M46.8 915.5h4.6M361.4 915.5h-4.6M46.8 903.64h2.4M361.4 903.64h-2.4M46.8 896.7h2.4M361.4 896.7h-2.4M46.8 891.78h2.4M361.4 891.78h-2.4M46.8 887.96h2.4M361.4 887.96h-2.4M46.8 884.84h2.4M361.4 884.84h-2.4M46.8 882.2h2.4M361.4 882.2h-2.4M46.8 879.92h2.4M361.4 879.92h-2.4M46.8 877.9h2.4M361.4 877.9h-2.4M46.8 876.1h4.6M361.4 876.1h-4.6M46.8 864.24h2.4M361.4 864.24h-2.4M46.8 857.3h2.4M361.4 857.3h-2.4M46.8 852.38h2.4M361.4 852.38h-2.4M46.8 848.56h2.4M361.4 848.56h-2.4M46.8 845.44h2.4M361.4 845.44h-2.4M46.8 842.8h2.4M361.4 842.8h-2.4M46.8 840.52h2.4M361.4 840.52h-2.4M46.8 838.5h2.4M361.4 838.5h-2.4M46.8 836.7h4.6M361.4 836.7h-4.6M46.8 824.84h2.4M361.4 824.84h-2.4M46.8 817.9h2.4M361.4 817.9h-2.4M46.8 812.98h2.4M361.4 812.98h-2.4M46.8 809.16h2.4M361.4 809.16h-2.4M46.8 806.04h2.4M361.4 806.04h-2.4M46.8 803.4h2.4M361.4 803.4h-2.4M46.8 801.12h2.4M361.4 801.12h-2.4M46.8 799.1h2.4M361.4 799.1h-2.4M46.8 797.3h4.6M361.4 797.3h-4.6M46.8 785.44h2.4M361.4 785.44h-2.4M46.8 778.5h2.4M361.4 778.5h-2.4M46.8 773.58h2.4M361.4 773.58h-2.4M46.8 769.76h2.4M361.4 769.76h-2.4M46.8 766.64h2.4M361.4 766.64h-2.4M46.8 764h2.4M361.4 764h-2.4M46.8 761.72h2.4M361.4 761.72h-2.4M46.8 759.7h2.4M361.4 759.7h-2.4M46.8 757.9h4.6M361.4 757.9h-4.6M46.8 746.04h2.4M361.4 746.04h-2.4M46.8 739.1h2.4M361.4 739.1h-2.4M46.8 734.18h2.4M361.4 734.18h-2.4M46.8 730.36h2.4M361.4 730.36h-2.4M46.8 727.24h2.4M361.4 727.24h-2.4M46.8 724.6h2.4M361.4 724.6h-2.4M46.8 722.32h2.4M361.4 722.32h-2.4M46.8 720.3h2.4M361.4 720.3h-2.4M46.8 718.5h4.6M361.4 718.5h-4.6M57.63 1033.7v-2.3M57.63 718.5v2.3M66.78 1033.7v-2.3M66.78 718.5v2.3M74.71 1033.7v-2.3M74.71 718.5v2.3M81.7 1033.7v-2.3M81.7 718.5v2.3M87.96 1033.7v-4.4M87.96 718.5v4.4M129.11 1033.7v-2.3M129.11 718.5v2.3M153.19 1033.7v-2.3M153.19 718.5v2.3M170.27 1033.7v-2.3M170.27 718.5v2.3M183.52 1033.7v-2.3M183.52 718.5v2.3M194.35 1033.7v-2.3M194.35 718.5v2.3M203.5 1033.7v-2.3M203.5 718.5v2.3M211.43 1033.7v-2.3M211.43 718.5v2.3M218.42 1033.7v-2.3M218.42 718.5v2.3M224.68 1033.7v-4.4M224.68 718.5v4.4M265.84 1033.7v-2.3M265.84 718.5v2.3M289.91 1033.7v-2.3M289.91 718.5v2.3M306.99 1033.7v-2.3M306.99 718.5v2.3M320.24 1033.7v-2.3M320.24 718.5v2.3M331.07 1033.7v-2.3M331.07 718.5v2.3M340.22 1033.7v-2.3M340.22 718.5v2.3M348.15 1033.7v-2.3M348.15 718.5v2.3M355.14 1033.7v-2.3M355.14 718.5v2.3" stroke="#000" stroke-width="1.0" fill="none"/>
<rect x="361.4" y="718.5" width="316" height="315.2" fill="none" stroke="#000" stroke-width="1.0"/>
<path d="M361.4 1033.7h4.6M677.4 1033.7h-4.6M361.4 1021.84h2.4M677.4 1021.84h-2.4M361.4 1014.9h2.4M677.4 1014.9h-2.4M361.4 1009.98h2.4M677.4 1009.98h-2.4M361.4 1006.16h2.4M677.4 1006.16h-2.4M361.4 1003.04h2.4M677.4 1003.04h-2.4M361.4 1000.4h2.4M677.4 1000.4h-2.4M361.4 998.12h2.4M677.4 998.12h-2.4M361.4 996.1h2.4M677.4 996.1h-2.4M361.4 994.3h4.6M677.4 994.3h-4.6M361.4 982.44h2.4M677.4 982.44h-2.4M361.4 975.5h2.4M677.4 975.5h-2.4M361.4 970.58h2.4M677.4 970.58h-2.4M361.4 966.76h2.4M677.4 966.76h-2.4M361.4 963.64h2.4M677.4 963.64h-2.4M361.4 961h2.4M677.4 961h-2.4M361.4 958.72h2.4M677.4 958.72h-2.4M361.4 956.7h2.4M677.4 956.7h-2.4M361.4 954.9h4.6M677.4 954.9h-4.6M361.4 943.04h2.4M677.4 943.04h-2.4M361.4 936.1h2.4M677.4 936.1h-2.4M361.4 931.18h2.4M677.4 931.18h-2.4M361.4 927.36h2.4M677.4 927.36h-2.4M361.4 924.24h2.4M677.4 924.24h-2.4M361.4 921.6h2.4M677.4 921.6h-2.4M361.4 919.32h2.4M677.4 919.32h-2.4M361.4 917.3h2.4M677.4 917.3h-2.4M361.4 915.5h4.6M677.4 915.5h-4.6M361.4 903.64h2.4M677.4 903.64h-2.4M361.4 896.7h2.4M677.4 896.7h-2.4M361.4 891.78h2.4M677.4 891.78h-2.4M361.4 887.96h2.4M677.4 887.96h-2.4M361.4 884.84h2.4M677.4 884.84h-2.4M361.4 882.2h2.4M677.4 882.2h-2.4M361.4 879.92h2.4M677.4 879.92h-2.4M361.4 877.9h2.4M677.4 877.9h-2.4M361.4 876.1h4.6M677.4 876.1h-4.6M361.4 864.24h2.4M677.4 864.24h-2.4M361.4 857.3h2.4M677.4 857.3h-2.4M361.4 852.38h2.4M677.4 852.38h-2.4M361.4 848.56h2.4M677.4 848.56h-2.4M361.4 845.44h2.4M677.4 845.44h-2.4M361.4 842.8h2.4M677.4 842.8h-2.4M361.4 840.52h2.4M677.4 840.52h-2.4M361.4 838.5h2.4M677.4 838.5h-2.4M361.4 836.7h4.6M677.4 836.7h-4.6M361.4 824.84h2.4M677.4 824.84h-2.4M361.4 817.9h2.4M677.4 817.9h-2.4M361.4 812.98h2.4M677.4 812.98h-2.4M361.4 809.16h2.4M677.4 809.16h-2.4M361.4 806.04h2.4M677.4 806.04h-2.4M361.4 803.4h2.4M677.4 803.4h-2.4M361.4 801.12h2.4M677.4 801.12h-2.4M361.4 799.1h2.4M677.4 799.1h-2.4M361.4 797.3h4.6M677.4 797.3h-4.6M361.4 785.44h2.4M677.4 785.44h-2.4M361.4 778.5h2.4M677.4 778.5h-2.4M361.4 773.58h2.4M677.4 773.58h-2.4M361.4 769.76h2.4M677.4 769.76h-2.4M361.4 766.64h2.4M677.4 766.64h-2.4M361.4 764h2.4M677.4 764h-2.4M361.4 761.72h2.4M677.4 761.72h-2.4M361.4 759.7h2.4M677.4 759.7h-2.4M361.4 757.9h4.6M677.4 757.9h-4.6M361.4 746.04h2.4M677.4 746.04h-2.4M361.4 739.1h2.4M677.4 739.1h-2.4M361.4 734.18h2.4M677.4 734.18h-2.4M361.4 730.36h2.4M677.4 730.36h-2.4M361.4 727.24h2.4M677.4 727.24h-2.4M361.4 724.6h2.4M677.4 724.6h-2.4M361.4 722.32h2.4M677.4 722.32h-2.4M361.4 720.3h2.4M677.4 720.3h-2.4M361.4 718.5h4.6M677.4 718.5h-4.6M372.27 1033.7v-2.3M372.27 718.5v2.3M381.47 1033.7v-2.3M381.47 718.5v2.3M389.43 1033.7v-2.3M389.43 718.5v2.3M396.46 1033.7v-2.3M396.46 718.5v2.3M402.74 1033.7v-4.4M402.74 718.5v4.4M444.08 1033.7v-2.3M444.08 718.5v2.3M468.26 1033.7v-2.3M468.26 718.5v2.3M485.42 1033.7v-2.3M485.42 718.5v2.3M498.73 1033.7v-2.3M498.73 718.5v2.3M509.6 1033.7v-2.3M509.6 718.5v2.3M518.8 1033.7v-2.3M518.8 718.5v2.3M526.76 1033.7v-2.3M526.76 718.5v2.3M533.79 1033.7v-2.3M533.79 718.5v2.3M540.07 1033.7v-4.4M540.07 718.5v4.4M581.41 1033.7v-2.3M581.41 718.5v2.3M605.59 1033.7v-2.3M605.59 718.5v2.3M622.75 1033.7v-2.3M622.75 718.5v2.3M636.06 1033.7v-2.3M636.06 718.5v2.3M646.93 1033.7v-2.3M646.93 718.5v2.3M656.13 1033.7v-2.3M656.13 718.5v2.3M664.09 1033.7v-2.3M664.09 718.5v2.3M671.12 1033.7v-2.3M671.12 718.5v2.3" stroke="#000" stroke-width="1.0" fill="none"/>
<g font-size="10">
<text x="41.2" y="324.9" text-anchor="end" font-size="10.0">10<tspan dy="-4.3" font-size="8.7">-3</tspan></text>
<text x="41.2" y="285.66" text-anchor="end" font-size="10.0">10<tspan dy="-4.3" font-size="8.7">-2</tspan></text>
<text x="41.2" y="246.43" text-anchor="end" font-size="10.0">10<tspan dy="-4.3" font-size="8.7">-1</tspan></text>
<text x="41.2" y="207.19" text-anchor="end" font-size="10.0">10<tspan dy="-4.3" font-size="8.7">0</tspan></text>
<text x="41.2" y="167.95" text-anchor="end" font-size="10.0">10<tspan dy="-4.3" font-size="8.7">1</tspan></text>
<text x="41.2" y="128.71" text-anchor="end" font-size="10.0">10<tspan dy="-4.3" font-size="8.7">2</tspan></text>
<text x="41.2" y="89.48" text-anchor="end" font-size="10.0">10<tspan dy="-4.3" font-size="8.7">3</tspan></text>
<text x="41.2" y="50.24" text-anchor="end" font-size="10.0">10<tspan dy="-4.3" font-size="8.7">4</tspan></text>
<text x="41.2" y="11" text-anchor="end" font-size="10.0">10<tspan dy="-4.3" font-size="8.7">5</tspan></text>
<text x="387.8" y="285.66" text-anchor="end" font-size="10.0">10<tspan dy="-4.3" font-size="8.7">-2</tspan></text>
<text x="387.8" y="246.43" text-anchor="end" font-size="10.0">10<tspan dy="-4.3" font-size="8.7">-1</tspan></text>
<text x="387.8" y="207.19" text-anchor="end" font-size="10.0">10<tspan dy="-4.3" font-size="8.7">0</tspan></text>
<text x="387.8" y="167.95" text-anchor="end" font-size="10.0">10<tspan dy="-4.3" font-size="8.7">1</tspan></text>
<text x="387.8" y="128.71" text-anchor="end" font-size="10.0">10<tspan dy="-4.3" font-size="8.7">2</tspan></text>
<text x="387.8" y="89.48" text-anchor="end" font-size="10.0">10<tspan dy="-4.3" font-size="8.7">3</tspan></text>
<text x="387.8" y="50.24" text-anchor="end" font-size="10.0">10<tspan dy="-4.3" font-size="8.7">4</tspan></text>
<text x="87.98" y="334.7" text-anchor="middle" font-size="10.0">10<tspan dy="-4.3" font-size="8.7">2</tspan></text>
<text x="224.79" y="334.7" text-anchor="middle" font-size="10.0">10<tspan dy="-4.3" font-size="8.7">3</tspan></text>
<text x="361.6" y="334.7" text-anchor="middle" font-size="10.0">10<tspan dy="-4.3" font-size="8.7">4</tspan></text>
<text x="402.78" y="334.7" text-anchor="middle" font-size="10.0">10<tspan dy="-4.3" font-size="8.7">2</tspan></text>
<text x="539.59" y="334.7" text-anchor="middle" font-size="10.0">10<tspan dy="-4.3" font-size="8.7">3</tspan></text>
<text x="676.4" y="334.7" text-anchor="middle" font-size="10.0">10<tspan dy="-4.3" font-size="8.7">4</tspan></text>
<text x="41.2" y="682" text-anchor="end" font-size="10.0">10<tspan dy="-4.3" font-size="8.7">-3</tspan></text>
<text x="41.2" y="642.76" text-anchor="end" font-size="10.0">10<tspan dy="-4.3" font-size="8.7">-2</tspan></text>
<text x="41.2" y="603.52" text-anchor="end" font-size="10.0">10<tspan dy="-4.3" font-size="8.7">-1</tspan></text>
<text x="41.2" y="564.29" text-anchor="end" font-size="10.0">10<tspan dy="-4.3" font-size="8.7">0</tspan></text>
<text x="41.2" y="525.05" text-anchor="end" font-size="10.0">10<tspan dy="-4.3" font-size="8.7">1</tspan></text>
<text x="41.2" y="485.81" text-anchor="end" font-size="10.0">10<tspan dy="-4.3" font-size="8.7">2</tspan></text>
<text x="41.2" y="446.58" text-anchor="end" font-size="10.0">10<tspan dy="-4.3" font-size="8.7">3</tspan></text>
<text x="41.2" y="407.34" text-anchor="end" font-size="10.0">10<tspan dy="-4.3" font-size="8.7">4</tspan></text>
<text x="41.2" y="368.1" text-anchor="end" font-size="10.0">10<tspan dy="-4.3" font-size="8.7">5</tspan></text>
<text x="387.8" y="642.76" text-anchor="end" font-size="10.0">10<tspan dy="-4.3" font-size="8.7">-2</tspan></text>
<text x="387.8" y="603.52" text-anchor="end" font-size="10.0">10<tspan dy="-4.3" font-size="8.7">-1</tspan></text>
<text x="387.8" y="564.29" text-anchor="end" font-size="10.0">10<tspan dy="-4.3" font-size="8.7">0</tspan></text>
<text x="387.8" y="525.05" text-anchor="end" font-size="10.0">10<tspan dy="-4.3" font-size="8.7">1</tspan></text>
<text x="387.8" y="485.81" text-anchor="end" font-size="10.0">10<tspan dy="-4.3" font-size="8.7">2</tspan></text>
<text x="387.8" y="446.58" text-anchor="end" font-size="10.0">10<tspan dy="-4.3" font-size="8.7">3</tspan></text>
<text x="387.8" y="407.34" text-anchor="end" font-size="10.0">10<tspan dy="-4.3" font-size="8.7">4</tspan></text>
<text x="87.98" y="691.8" text-anchor="middle" font-size="10.0">10<tspan dy="-4.3" font-size="8.7">2</tspan></text>
<text x="224.79" y="691.8" text-anchor="middle" font-size="10.0">10<tspan dy="-4.3" font-size="8.7">3</tspan></text>
<text x="361.6" y="691.8" text-anchor="middle" font-size="10.0">10<tspan dy="-4.3" font-size="8.7">4</tspan></text>
<text x="402.73" y="691.8" text-anchor="middle" font-size="10.0">10<tspan dy="-4.3" font-size="8.7">2</tspan></text>
<text x="539.37" y="691.8" text-anchor="middle" font-size="10.0">10<tspan dy="-4.3" font-size="8.7">3</tspan></text>
<text x="676" y="691.8" text-anchor="middle" font-size="10.0">10<tspan dy="-4.3" font-size="8.7">4</tspan></text>
<text x="41.2" y="1038.3" text-anchor="end" font-size="10.0">10<tspan dy="-4.3" font-size="8.7">-3</tspan></text>
<text x="41.2" y="998.9" text-anchor="end" font-size="10.0">10<tspan dy="-4.3" font-size="8.7">-2</tspan></text>
<text x="41.2" y="959.5" text-anchor="end" font-size="10.0">10<tspan dy="-4.3" font-size="8.7">-1</tspan></text>
<text x="41.2" y="920.1" text-anchor="end" font-size="10.0">10<tspan dy="-4.3" font-size="8.7">0</tspan></text>
<text x="41.2" y="880.7" text-anchor="end" font-size="10.0">10<tspan dy="-4.3" font-size="8.7">1</tspan></text>
<text x="41.2" y="841.3" text-anchor="end" font-size="10.0">10<tspan dy="-4.3" font-size="8.7">2</tspan></text>
<text x="41.2" y="801.9" text-anchor="end" font-size="10.0">10<tspan dy="-4.3" font-size="8.7">3</tspan></text>
<text x="41.2" y="762.5" text-anchor="end" font-size="10.0">10<tspan dy="-4.3" font-size="8.7">4</tspan></text>
<text x="41.2" y="723.1" text-anchor="end" font-size="10.0">10<tspan dy="-4.3" font-size="8.7">5</tspan></text>
<text x="387.6" y="998.9" text-anchor="end" font-size="10.0">10<tspan dy="-4.3" font-size="8.7">-2</tspan></text>
<text x="387.6" y="959.5" text-anchor="end" font-size="10.0">10<tspan dy="-4.3" font-size="8.7">-1</tspan></text>
<text x="387.6" y="920.1" text-anchor="end" font-size="10.0">10<tspan dy="-4.3" font-size="8.7">0</tspan></text>
<text x="387.6" y="880.7" text-anchor="end" font-size="10.0">10<tspan dy="-4.3" font-size="8.7">1</tspan></text>
<text x="387.6" y="841.3" text-anchor="end" font-size="10.0">10<tspan dy="-4.3" font-size="8.7">2</tspan></text>
<text x="387.6" y="801.9" text-anchor="end" font-size="10.0">10<tspan dy="-4.3" font-size="8.7">3</tspan></text>
<text x="387.6" y="762.5" text-anchor="end" font-size="10.0">10<tspan dy="-4.3" font-size="8.7">4</tspan></text>
<text x="87.96" y="1048.1" text-anchor="middle" font-size="10.0">10<tspan dy="-4.3" font-size="8.7">2</tspan></text>
<text x="224.68" y="1048.1" text-anchor="middle" font-size="10.0">10<tspan dy="-4.3" font-size="8.7">3</tspan></text>
<text x="361.4" y="1048.1" text-anchor="middle" font-size="10.0">10<tspan dy="-4.3" font-size="8.7">4</tspan></text>
<text x="402.74" y="1048.1" text-anchor="middle" font-size="10.0">10<tspan dy="-4.3" font-size="8.7">2</tspan></text>
<text x="540.07" y="1048.1" text-anchor="middle" font-size="10.0">10<tspan dy="-4.3" font-size="8.7">3</tspan></text>
<text x="677.4" y="1048.1" text-anchor="middle" font-size="10.0">10<tspan dy="-4.3" font-size="8.7">4</tspan></text>
</g>
<text x="204.2" y="349.5" text-anchor="middle" font-size="14.25">Energy (keV)</text>
<text x="519" y="349.5" text-anchor="middle" font-size="14.25">Energy (keV)</text>
<text transform="translate(10.8,170.9) rotate(-90)" text-anchor="middle" font-size="14.1">Particle Flux (/cm<tspan dy="-5" font-size="10.57">2</tspan><tspan dy="5"> s sr keV)</tspan></text>
<text x="204.2" y="704.6" text-anchor="middle" font-size="14.25">Energy (keV)</text>
<text x="518.8" y="704.6" text-anchor="middle" font-size="14.25">Energy (keV)</text>
<text transform="translate(10.8,525.2) rotate(-90)" text-anchor="middle" font-size="14.1">Particle Flux (/cm<tspan dy="-5" font-size="10.57">2</tspan><tspan dy="5"> s sr keV)</tspan></text>
<text x="204.1" y="1059.6" text-anchor="middle" font-size="14.25">Energy (keV)</text>
<text x="519.4" y="1059.6" text-anchor="middle" font-size="14.25">Energy (keV)</text>
<text transform="translate(10.8,883.8) rotate(-90)" text-anchor="middle" font-size="14.1">Particle Flux (/cm<tspan dy="-5" font-size="10.57">2</tspan><tspan dy="5"> s sr keV)</tspan></text>
<g font-size="21.4">
<text x="53.9" y="30.8">(a)</text>
<text x="56.0" y="385.5">(b)</text>
<text x="55.4" y="742.4">(c)</text>
<text x="349.6" y="32.1" text-anchor="end">2020</text>
<text x="662.5" y="32.1" text-anchor="end">2021</text>
<text x="345" y="385.4" text-anchor="end">GK2A KSEM PD</text>
<text x="668.7" y="385.8" text-anchor="end">GOES-16 MPS-HI</text>
<text x="351" y="741.6" text-anchor="end">2020</text>
<text x="664.4" y="741" text-anchor="end">2021</text>
</g>
<rect x="57.2" y="266.4" width="197.2" height="45.8" fill="#fff" stroke="#222" stroke-width="1.0"/>
<g font-size="13.8" text-anchor="end">
<text x="204.2" y="279.9">GOES-16 MPS HI</text>
<text x="204.2" y="293.9">GOES-16 MPS HI(E<tspan dy="3" font-size="11">eff</tspan><tspan dy="-3">)</tspan></text>
<text x="204.2" y="308.9">GK-2A KSEM PD</text>
</g>
<line x1="211.9" y1="275.5" x2="251.5" y2="275.5" stroke="#f4a321" stroke-width="1.0"/>
<circle cx="231.6" cy="275.5" r="1.7" fill="#f4a321"/>
<line x1="211.9" y1="290.5" x2="251.5" y2="290.5" stroke="#e2202b" stroke-width="1.0"/>
<circle cx="231.6" cy="290.5" r="1.7" fill="#e2202b"/>
<line x1="211.9" y1="304.5" x2="251.5" y2="304.5" stroke="#111" stroke-width="1.0"/>
<circle cx="231.6" cy="304.5" r="1.7" fill="#111"/>
<rect x="392.1" y="266.4" width="197.2" height="45.8" fill="#fff" stroke="#222" stroke-width="1.0"/>
<g font-size="13.8" text-anchor="end">
<text x="539.1" y="279.9">GOES-16 MPS HI</text>
<text x="539.1" y="293.9">GOES-16 MPS HI(E<tspan dy="3" font-size="11">eff</tspan><tspan dy="-3">)</tspan></text>
<text x="539.1" y="308.9">GK-2A KSEM PD</text>
</g>
<line x1="546.8" y1="275.5" x2="586.4" y2="275.5" stroke="#f4a321" stroke-width="1.0"/>
<circle cx="566.5" cy="275.5" r="1.7" fill="#f4a321"/>
<line x1="546.8" y1="290.5" x2="586.4" y2="290.5" stroke="#e2202b" stroke-width="1.0"/>
<circle cx="566.5" cy="290.5" r="1.7" fill="#e2202b"/>
<line x1="546.8" y1="304.5" x2="586.4" y2="304.5" stroke="#111" stroke-width="1.0"/>
<circle cx="566.5" cy="304.5" r="1.7" fill="#111"/>
<rect x="56.1" y="557.5" width="109.5" height="112.8" fill="#fff" stroke="#222" stroke-width="1.0"/>
<g font-size="13.7" text-anchor="end">
<text x="113.2" y="570.8">2020 Q1</text>
<text x="113.2" y="584.4">2020 Q2</text>
<text x="113.2" y="598.2">2020 Q3</text>
<text x="113.2" y="611.3">2020 Q4</text>
<text x="113.2" y="625.3">2021 Q1</text>
<text x="113.2" y="638.9">2021 Q2</text>
<text x="113.2" y="652.3">2021 Q3</text>
<text x="113.2" y="666.2">2021 Q4</text>
</g>
<line x1="121.8" y1="566" x2="160.4" y2="566" stroke="#e0218a" stroke-width="1.0"/>
<circle cx="140.8" cy="566" r="1.6" fill="#e0218a"/>
<line x1="121.8" y1="579.6" x2="160.4" y2="579.6" stroke="#f78f63" stroke-width="1.0"/>
<circle cx="140.8" cy="579.6" r="1.6" fill="#f78f63"/>
<line x1="121.8" y1="593.4" x2="160.4" y2="593.4" stroke="#f3cf19" stroke-width="1.0"/>
<circle cx="140.8" cy="593.4" r="1.6" fill="#f3cf19"/>
<line x1="121.8" y1="606.5" x2="160.4" y2="606.5" stroke="#1f8a45" stroke-width="1.0"/>
<circle cx="140.8" cy="606.5" r="1.6" fill="#1f8a45"/>
<line x1="121.8" y1="620.5" x2="160.4" y2="620.5" stroke="#4060b6" stroke-width="1.0"/>
<circle cx="140.8" cy="620.5" r="1.6" fill="#4060b6"/>
<line x1="121.8" y1="634.1" x2="160.4" y2="634.1" stroke="#2b45a8" stroke-width="1.0"/>
<circle cx="140.8" cy="634.1" r="1.6" fill="#2b45a8"/>
<line x1="121.8" y1="647.5" x2="160.4" y2="647.5" stroke="#87409e" stroke-width="1.0"/>
<circle cx="140.8" cy="647.5" r="1.6" fill="#87409e"/>
<line x1="121.8" y1="661.4" x2="160.4" y2="661.4" stroke="#ab82c9" stroke-width="1.0"/>
<circle cx="140.8" cy="661.4" r="1.6" fill="#ab82c9"/>
<rect x="392.7" y="557.5" width="109.5" height="112.8" fill="#fff" stroke="#222" stroke-width="1.0"/>
<g font-size="13.7" text-anchor="end">
<text x="449.8" y="570.8">2020 Q1</text>
<text x="449.8" y="584.4">2020 Q2</text>
<text x="449.8" y="598.2">2020 Q3</text>
<text x="449.8" y="611.3">2020 Q4</text>
<text x="449.8" y="625.3">2021 Q1</text>
<text x="449.8" y="638.9">2021 Q2</text>
<text x="449.8" y="652.3">2021 Q3</text>
<text x="449.8" y="666.2">2021 Q4</text>
</g>
<line x1="458.4" y1="566" x2="497" y2="566" stroke="#e0218a" stroke-width="1.0"/>
<circle cx="477.4" cy="566" r="1.6" fill="#e0218a"/>
<line x1="458.4" y1="579.6" x2="497" y2="579.6" stroke="#f78f63" stroke-width="1.0"/>
<circle cx="477.4" cy="579.6" r="1.6" fill="#f78f63"/>
<line x1="458.4" y1="593.4" x2="497" y2="593.4" stroke="#f3cf19" stroke-width="1.0"/>
<circle cx="477.4" cy="593.4" r="1.6" fill="#f3cf19"/>
<line x1="458.4" y1="606.5" x2="497" y2="606.5" stroke="#1f8a45" stroke-width="1.0"/>
<circle cx="477.4" cy="606.5" r="1.6" fill="#1f8a45"/>
<line x1="458.4" y1="620.5" x2="497" y2="620.5" stroke="#4060b6" stroke-width="1.0"/>
<circle cx="477.4" cy="620.5" r="1.6" fill="#4060b6"/>
<line x1="458.4" y1="634.1" x2="497" y2="634.1" stroke="#2b45a8" stroke-width="1.0"/>
<circle cx="477.4" cy="634.1" r="1.6" fill="#2b45a8"/>
<line x1="458.4" y1="647.5" x2="497" y2="647.5" stroke="#87409e" stroke-width="1.0"/>
<circle cx="477.4" cy="647.5" r="1.6" fill="#87409e"/>
<line x1="458.4" y1="661.4" x2="497" y2="661.4" stroke="#ab82c9" stroke-width="1.0"/>
<circle cx="477.4" cy="661.4" r="1.6" fill="#ab82c9"/>
<rect x="56.1" y="917.4" width="181.5" height="105.9" fill="#fff" stroke="#222" stroke-width="1.0"/>
<g font-size="12.7" text-anchor="end">
<text x="186.6" y="929.4">GK-2A KSEM PD&#160;&#160;Q1</text>
<text x="186.6" y="942.2">GK-2A KSEM PD&#160;&#160;Q2</text>
<text x="186.6" y="955">GK-2A KSEM PD&#160;&#160;Q3</text>
<text x="186.6" y="967.8">GK-2A KSEM PD&#160;&#160;Q4</text>
<text x="186.6" y="980.9">GOES-16 MPS-HI&#160;&#160;Q1</text>
<text x="186.6" y="993.8">GOES-16 MPS-HI&#160;&#160;Q2</text>
<text x="186.6" y="1006.6">GOES-16 MPS-HI&#160;&#160;Q3</text>
<text x="186.6" y="1019.3">GOES-16 MPS-HI&#160;&#160;Q4</text>
</g>
<line x1="194.7" y1="925" x2="231.2" y2="925" stroke="#e2191e" stroke-width="1.0"/>
<circle cx="213" cy="925" r="1.6" fill="#e2191e"/>
<line x1="194.7" y1="937.8" x2="231.2" y2="937.8" stroke="#2f47a8" stroke-width="1.0"/>
<circle cx="213" cy="937.8" r="1.6" fill="#2f47a8"/>
<line x1="194.7" y1="950.6" x2="231.2" y2="950.6" stroke="#238b45" stroke-width="1.0"/>
<circle cx="213" cy="950.6" r="1.6" fill="#238b45"/>
<line x1="194.7" y1="963.4" x2="231.2" y2="963.4" stroke="#8c44a2" stroke-width="1.0"/>
<circle cx="213" cy="963.4" r="1.6" fill="#8c44a2"/>
<line x1="194.6" y1="976.5" x2="231.2" y2="976.5" stroke="#f46d3a" stroke-width="1.0" stroke-dasharray="2.4 3.9"/>
<circle cx="213" cy="976.5" r="1.6" fill="#f46d3a"/>
<line x1="194.6" y1="989.4" x2="231.2" y2="989.4" stroke="#4262b8" stroke-width="1.0" stroke-dasharray="2.4 3.9"/>
<circle cx="213" cy="989.4" r="1.6" fill="#4262b8"/>
<line x1="194.6" y1="1002.2" x2="231.2" y2="1002.2" stroke="#5cb84a" stroke-width="1.0" stroke-dasharray="2.4 3.9"/>
<circle cx="213" cy="1002.2" r="1.6" fill="#5cb84a"/>
<line x1="194.6" y1="1014.9" x2="231.2" y2="1014.9" stroke="#a78cc9" stroke-width="1.0" stroke-dasharray="2.4 3.9"/>
<circle cx="213" cy="1014.9" r="1.6" fill="#a78cc9"/>
<rect x="392.8" y="917.4" width="181.5" height="105.9" fill="#fff" stroke="#222" stroke-width="1.0"/>
<g font-size="12.7" text-anchor="end">
<text x="523.3" y="929.4">GK-2A KSEM PD&#160;&#160;Q1</text>
<text x="523.3" y="942.2">GK-2A KSEM PD&#160;&#160;Q2</text>
<text x="523.3" y="955">GK-2A KSEM PD&#160;&#160;Q3</text>
<text x="523.3" y="967.8">GK-2A KSEM PD&#160;&#160;Q4</text>
<text x="523.3" y="980.9">GOES-16 MPS-HI&#160;&#160;Q1</text>
<text x="523.3" y="993.8">GOES-16 MPS-HI&#160;&#160;Q2</text>
<text x="523.3" y="1006.6">GOES-16 MPS-HI&#160;&#160;Q3</text>
<text x="523.3" y="1019.3">GOES-16 MPS-HI&#160;&#160;Q4</text>
</g>
<line x1="531.4" y1="925" x2="567.9" y2="925" stroke="#e2191e" stroke-width="1.0"/>
<circle cx="549.7" cy="925" r="1.6" fill="#e2191e"/>
<line x1="531.4" y1="937.8" x2="567.9" y2="937.8" stroke="#2f47a8" stroke-width="1.0"/>
<circle cx="549.7" cy="937.8" r="1.6" fill="#2f47a8"/>
<line x1="531.4" y1="950.6" x2="567.9" y2="950.6" stroke="#238b45" stroke-width="1.0"/>
<circle cx="549.7" cy="950.6" r="1.6" fill="#238b45"/>
<line x1="531.4" y1="963.4" x2="567.9" y2="963.4" stroke="#8c44a2" stroke-width="1.0"/>
<circle cx="549.7" cy="963.4" r="1.6" fill="#8c44a2"/>
<line x1="531.3" y1="976.5" x2="567.9" y2="976.5" stroke="#f46d3a" stroke-width="1.0" stroke-dasharray="2.4 3.9"/>
<circle cx="549.7" cy="976.5" r="1.6" fill="#f46d3a"/>
<line x1="531.3" y1="989.4" x2="567.9" y2="989.4" stroke="#4262b8" stroke-width="1.0" stroke-dasharray="2.4 3.9"/>
<circle cx="549.7" cy="989.4" r="1.6" fill="#4262b8"/>
<line x1="531.3" y1="1002.2" x2="567.9" y2="1002.2" stroke="#5cb84a" stroke-width="1.0" stroke-dasharray="2.4 3.9"/>
<circle cx="549.7" cy="1002.2" r="1.6" fill="#5cb84a"/>
<line x1="531.3" y1="1014.9" x2="567.9" y2="1014.9" stroke="#a78cc9" stroke-width="1.0" stroke-dasharray="2.4 3.9"/>
<circle cx="549.7" cy="1014.9" r="1.6" fill="#a78cc9"/>
</svg>
</body></html>
